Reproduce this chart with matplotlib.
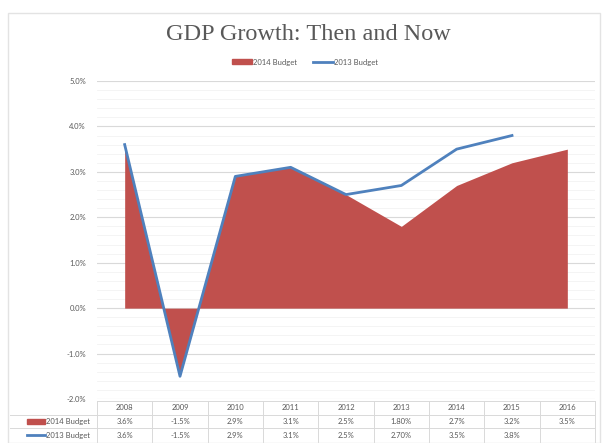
import numpy as np
import matplotlib.pyplot as plt
from matplotlib.patches import Rectangle
from matplotlib.lines import Line2D

# GDP growth forecasts (%), 2014 budget vs 2013 budget
years = ['2008', '2009', '2010', '2011', '2012', '2013', '2014', '2015', '2016']
budget_2014 = [3.6, -1.5, 2.9, 3.1, 2.5, 1.8, 2.7, 3.2, 3.5]
budget_2013 = [3.6, -1.5, 2.9, 3.1, 2.5, 2.7, 3.5, 3.8, np.nan]
labels_2014 = ['3.6%', '-1.5%', '2.9%', '3.1%', '2.5%', '1.80%', '2.7%', '3.2%', '3.5%']
labels_2013 = ['3.6%', '-1.5%', '2.9%', '3.1%', '2.5%', '2.70%', '3.5%', '3.8%', '']

red = '#C0504D'
blue = '#4F81BD'
txt = '#595959'
grid = '#D9D9D9'

plt.rcParams['font.family'] = ['Lato', 'DejaVu Sans']

W, H = 604, 443
fig = plt.figure(figsize=(W / 100, H / 100), dpi=100)
fig.patch.set_facecolor('white')

# outer chart frame
fig.patches.append(Rectangle((8 / W, 0), 592 / W, 1 - 13 / H, transform=fig.transFigure,
                             fill=False, edgecolor='#E3E3E3', lw=1.0))

x = np.arange(len(years))
left, right = 97, 595
top, bottom = 81, 399
ax = fig.add_axes([left / W, 1 - bottom / H, (right - left) / W, (bottom - top) / H])

ax.fill_between(x, 0, budget_2014, color=red, lw=0, zorder=2)
ax.plot(x, budget_2013, color=blue, lw=2.0, zorder=3, solid_joinstyle='round')

ax.set_xlim(-0.5, len(years) - 0.5)
ax.set_ylim(-2.0, 5.0)
ax.set_yticks(np.arange(-2, 5.01, 1.0))
ax.set_yticklabels(['%.1f%%' % v for v in np.arange(-2, 5.01, 1.0)])
ax.set_yticks(np.arange(-2, 5.01, 0.2), minor=True)
ax.grid(True, axis='y', which='major', color=grid, lw=0.8, zorder=0)
ax.grid(True, axis='y', which='minor', color='#F3F3F3', lw=0.6, zorder=0)
ax.tick_params(axis='y', which='both', length=0, pad=8, labelsize=5.5, labelcolor=txt)
ax.set_xticks([])
for s in ax.spines.values():
    s.set_visible(False)

fig.text(308 / W, 1 - 35 / H, 'GDP Growth: Then and Now', ha='center', va='center',
         family='Liberation Serif', fontsize=17.5, color=txt)

handles = [Rectangle((0, 0), 1, 1, color=red),
           Line2D([], [], color=blue, lw=2.0)]
fig.legend(handles, ['2014 Budget', '2013 Budget'], loc='center',
           bbox_to_anchor=(305 / W, 1 - 62 / H), ncol=2, frameon=False,
           fontsize=5.5, labelcolor=txt, handlelength=2.6, handleheight=0.6,
           handletextpad=0.2, columnspacing=2.0)

# data table under the plot (pixel rows 401-442)
t_top, t_bot = 401, 442
tab = fig.add_axes([left / W, 1 - t_bot / H, (right - left) / W, (t_bot - t_top) / H])
tab.set_xlim(-0.5, len(years) - 0.5)
tab.set_ylim(3, 0)
tab.axis('off')
col_w = (right - left) / len(years)


def px_to_x(px):
    return -0.5 + (px - left) / col_w


row_y = [0.5, 1.5, 2.5]
for i in range(len(years)):
    tab.text(i, row_y[0], years[i], ha='center', va='center', fontsize=5.5, color=txt)
    tab.text(i, row_y[1], labels_2014[i], ha='center', va='center', fontsize=5.5, color=txt)
    tab.text(i, row_y[2], labels_2013[i], ha='center', va='center', fontsize=5.5, color=txt)
for xv in np.arange(-0.5, len(years), 1.0):
    tab.plot([xv, xv], [0, 3], color=grid, lw=0.7, clip_on=False)
tab.plot([-0.5, len(years) - 0.5], [0, 0], color=grid, lw=0.7, clip_on=False)
for yv in [1, 2]:
    tab.plot([px_to_x(10), len(years) - 0.5], [yv, yv], color=grid, lw=0.7, clip_on=False)

# series keys in the table rows
tab.add_patch(Rectangle((px_to_x(27), 1.32), px_to_x(45) - px_to_x(27), 0.36,
                        color=red, clip_on=False))
tab.plot([px_to_x(27), px_to_x(45)], [2.5, 2.5], color=blue, lw=2.0, clip_on=False)
tab.text(px_to_x(46), row_y[1], '2014 Budget', ha='left', va='center', fontsize=5.5, color=txt)
tab.text(px_to_x(46), row_y[2], '2013 Budget', ha='left', va='center', fontsize=5.5, color=txt)

fig.savefig('out.png', dpi=100, facecolor='white')
